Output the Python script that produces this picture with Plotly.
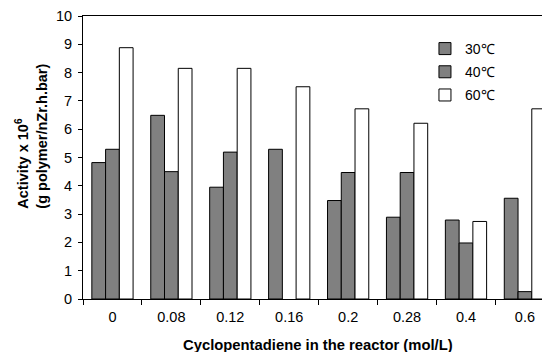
import plotly.graph_objects as go

categories = ["0", "0.08", "0.12", "0.16", "0.2", "0.28", "0.4", "0.6"]
act_30 = [4.82, 6.49, 3.95, 5.29, 3.48, 2.89, 2.79, 3.56]
act_40 = [5.29, 4.50, 5.19, None, 4.47, 4.47, 1.98, 0.26]
act_60 = [8.88, 8.15, 8.15, 7.50, 6.72, 6.21, 2.74, 6.72]
series_names = ["30℃", "40℃", "60℃"]
colors = ["#808080", "#808080", "#ffffff"]
x_title = "<b>Cyclopentadiene in the reactor (mol/L)</b>"
y_title = "<b>Activity x 10<sup>6</sup><br>(g polymer/nZr.h.bar)</b>"

fig = go.Figure()
for i, (name, vals, col) in enumerate(zip(series_names, [act_30, act_40, act_60], colors)):
    fig.add_trace(go.Bar(
        x=categories, y=vals, name=name, legendgroup=str(i),
        marker=dict(color=col, line=dict(color="black", width=1)),
    ))

font_family = "Liberation Sans"
fig.update_layout(
    width=542, height=352,
    margin=dict(l=83, r=0, t=16, b=53),
    paper_bgcolor="white", plot_bgcolor="white",
    barmode="group", bargap=0.3, bargroupgap=0,
    font=dict(family=font_family, size=14, color="black"),
    showlegend=True,
    legend=dict(x=0.745, y=0.94, xanchor="left", yanchor="top",
                bgcolor="rgba(0,0,0,0)", tracegroupgap=2,
                font=dict(size=14)),
    xaxis=dict(type="category", range=[-0.5, 7.29],
               showline=True, linecolor="black", linewidth=1, mirror=True,
               ticks="outside", tickson="boundaries", ticklen=5, tickcolor="black",
               showgrid=False, tickfont=dict(size=14.5), ticklabelstandoff=5),
    yaxis=dict(range=[0, 10], dtick=1,
               showline=True, linecolor="black", linewidth=1,
               ticks="outside", ticklen=4, tickcolor="black",
               showgrid=False, zeroline=False, tickfont=dict(size=14.5),
               ticklabelstandoff=3),
    annotations=[
        dict(text=x_title, xref="paper", yref="paper", x=0.513, y=-0.1625,
             xanchor="center", yanchor="middle", showarrow=False,
             font=dict(size=14.8)),
        dict(text=y_title, xref="paper", yref="paper", x=-0.113, y=0.574,
             xanchor="center", yanchor="middle", showarrow=False, textangle=-90,
             align="left", font=dict(size=14.5)),
    ],
)

fig.write_html("out.html")
